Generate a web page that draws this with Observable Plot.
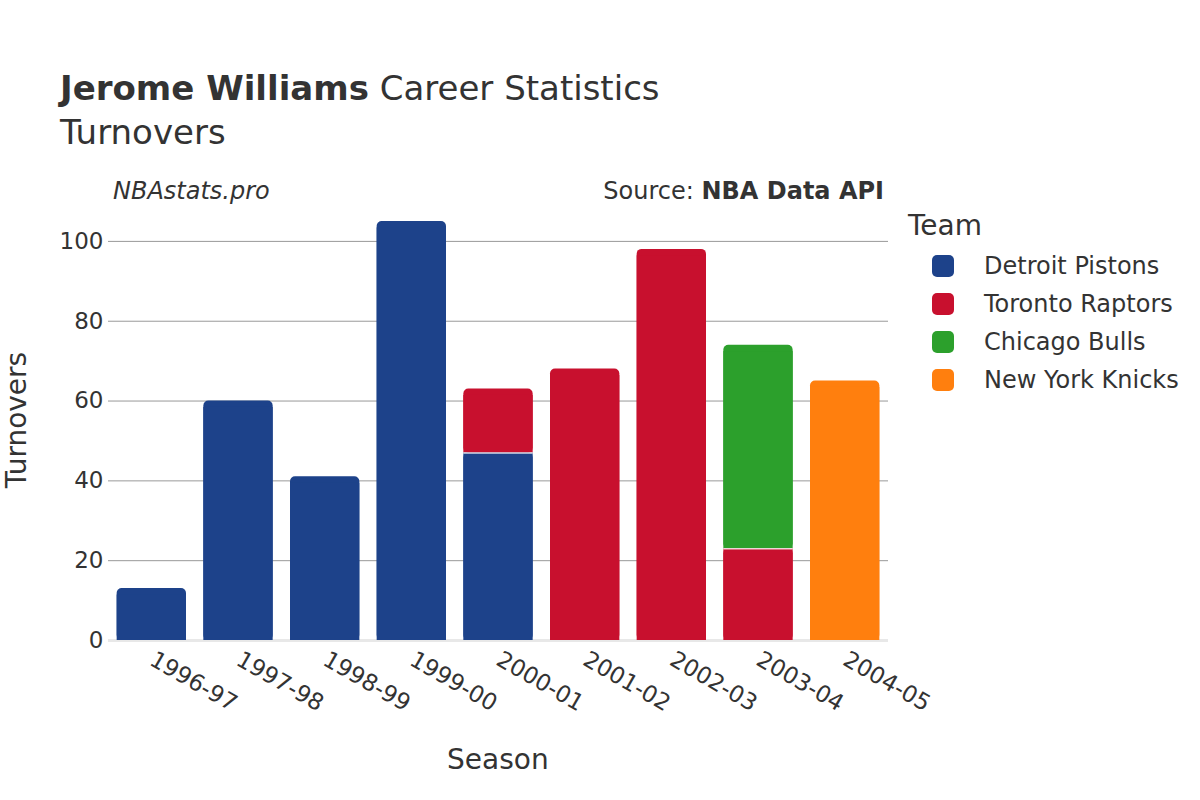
<!DOCTYPE html>
<html>
<head>
<meta charset="utf-8">
<script src="https://cdn.jsdelivr.net/npm/d3@7"></script>
<script src="https://cdn.jsdelivr.net/npm/@observablehq/plot@0.6"></script>
<style>
  html, body { margin: 0; padding: 0; background: #fff; }
  #wrap { position: relative; width: 1200px; height: 800px; font-family: "DejaVu Sans", sans-serif; color: #333; }
  #wrap svg { position: absolute; left: 0; top: 0; }
  .abs { position: absolute; white-space: nowrap; line-height: 1; }
  .leg-sw { position: absolute; width: 22px; height: 22px; border-radius: 5px; }
</style>
</head>
<body>
<div id="wrap"></div>
<script>
const seasons = ["1996-97","1997-98","1998-99","1999-00","2000-01","2001-02","2002-03","2003-04","2004-05"];
const teams = ["Detroit Pistons","Toronto Raptors","Chicago Bulls","New York Knicks"];
const teamColors = ["#1d428a","#c8102e","#2ca02c","#ff7f0e"];
const segSeason = ["1996-97","1997-98","1998-99","1999-00","2000-01","2000-01","2001-02","2002-03","2003-04","2003-04","2004-05"];
const segTeam = ["Detroit Pistons","Detroit Pistons","Detroit Pistons","Detroit Pistons","Detroit Pistons","Toronto Raptors","Toronto Raptors","Toronto Raptors","Toronto Raptors","Chicago Bulls","New York Knicks"];
const segValue = [13,60,41,105,47,16,68,98,23,51,65];
const yTicks = [0,20,40,60,80,100];

// build stacked table
const cum = {};
const rows = segSeason.map((s, i) => {
  const y1 = cum[s] || 0;
  const y2 = y1 + segValue[i];
  cum[s] = y2;
  return {season: s, team: segTeam[i], value: segValue[i], y1, y2};
});
rows.forEach((r, i) => {
  r.top = !rows.slice(i + 1).some(o => o.season === r.season);
  r.y2sq = r.top ? r.y2 - 1.6 : r.y2;
});
const boundaries = rows.filter(r => !r.top);

const W = 1200, H = 800;
const chart = Plot.plot({
  width: W, height: H,
  marginLeft: 108, marginRight: 312, marginTop: 199, marginBottom: 160,
  style: {fontFamily: "DejaVu Sans, sans-serif", color: "#333", background: "transparent"},
  x: {domain: seasons, paddingInner: 0.2, paddingOuter: 0.1, round: false, label: null},
  y: {domain: [0, 110.5], label: null},
  color: {domain: teams, range: teamColors},
  marks: [
    Plot.ruleY(yTicks.filter(d => d > 0), {stroke: "#999", strokeWidth: 1}),
    Plot.ruleY([0], {stroke: "#e8e8e8", strokeWidth: 3}),
    Plot.rectY(rows, {x: "season", y1: "y1", y2: "y2", fill: "team", rx: 5}),
    Plot.rectY(rows, {x: "season", y1: "y1", y2: "y2sq", fill: "team"}),
    Plot.tickY(boundaries, {x: "season", y: "y2", stroke: "#fff", strokeOpacity: 0.8, strokeWidth: 1.5}),
    Plot.axisY({ticks: yTicks, tickSize: 0, tickPadding: 5, fontSize: 23, label: null}),
    Plot.axisX({tickSize: 0, tickRotate: 30, tickPadding: 17, fontSize: 23, label: null})
  ]
});
const wrap = document.getElementById("wrap");
wrap.appendChild(chart);

function addText(html, css) {
  const d = document.createElement("div");
  d.className = "abs";
  d.innerHTML = html;
  Object.assign(d.style, css);
  wrap.appendChild(d);
  return d;
}
addText('<b>Jerome Williams</b> Career Statistics', {left: "60px", top: "71px", fontSize: "34px"});
addText('Turnovers', {left: "60px", top: "115px", fontSize: "34px"});
addText('<i>NBAstats.pro</i>', {left: "113px", top: "179px", fontSize: "24px"});
addText('Source: <b>NBA Data API</b>', {right: "316px", top: "179px", fontSize: "24px"});
addText('Season', {left: "447px", top: "746px", fontSize: "28px"});
const yt = addText('Turnovers', {left: "17px", top: "420px", fontSize: "28px"});
yt.style.transform = "translate(-50%, -50%) rotate(-90deg)";
addText('Team', {left: "908px", top: "212px", fontSize: "28px"});
teams.forEach((t, i) => {
  const sw = document.createElement("div");
  sw.className = "leg-sw";
  sw.style.left = "932px";
  sw.style.top = (255 + i * 38) + "px";
  sw.style.background = teamColors[i];
  wrap.appendChild(sw);
  addText(t, {left: "984px", top: (254 + i * 38) + "px", fontSize: "24px"});
});
</script>
</body>
</html>
